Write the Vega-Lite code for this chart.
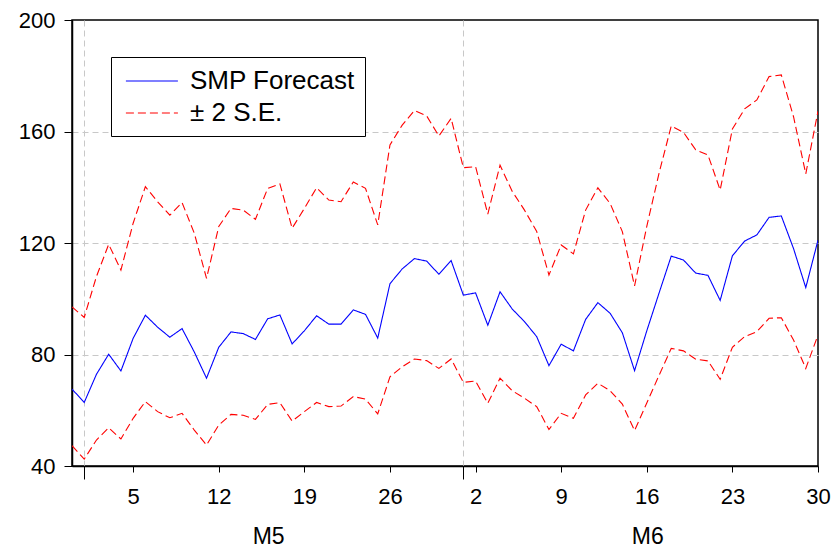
{
  "$schema": "https://vega.github.io/schema/vega-lite/v6.json",
  "width": 746,
  "height": 446,
  "autosize": {"type": "none"},
  "padding": {"left": 72, "top": 20, "right": 17, "bottom": 88},
  "background": "white",
  "config": {
    "view": {"stroke": "black", "strokeWidth": 1.5},
    "font": "Liberation Sans"
  },
  "data": {
    "values": [
      {"date": "2015-04-30", "forecast": 67.6, "upper": 97.1, "lower": 47.3},
      {"date": "2015-05-01", "forecast": 62.8, "upper": 93.3, "lower": 42.5},
      {"date": "2015-05-02", "forecast": 72.9, "upper": 108.0, "lower": 49.3},
      {"date": "2015-05-03", "forecast": 80.1, "upper": 119.5, "lower": 53.7},
      {"date": "2015-05-04", "forecast": 74.1, "upper": 110.3, "lower": 49.7},
      {"date": "2015-05-05", "forecast": 85.8, "upper": 127.1, "lower": 57.1},
      {"date": "2015-05-06", "forecast": 94.1, "upper": 140.2, "lower": 63.1},
      {"date": "2015-05-07", "forecast": 89.8, "upper": 134.8, "lower": 59.5},
      {"date": "2015-05-08", "forecast": 86.2, "upper": 130.0, "lower": 57.3},
      {"date": "2015-05-09", "forecast": 89.3, "upper": 134.5, "lower": 58.9},
      {"date": "2015-05-10", "forecast": 80.9, "upper": 123.5, "lower": 52.9},
      {"date": "2015-05-11", "forecast": 71.5, "upper": 107.3, "lower": 47.5},
      {"date": "2015-05-12", "forecast": 82.6, "upper": 125.9, "lower": 54.7},
      {"date": "2015-05-13", "forecast": 88.1, "upper": 132.4, "lower": 58.5},
      {"date": "2015-05-14", "forecast": 87.5, "upper": 131.8, "lower": 58.2},
      {"date": "2015-05-15", "forecast": 85.4, "upper": 128.5, "lower": 56.7},
      {"date": "2015-05-16", "forecast": 92.8, "upper": 139.6, "lower": 62.1},
      {"date": "2015-05-17", "forecast": 94.2, "upper": 141.2, "lower": 62.7},
      {"date": "2015-05-18", "forecast": 83.8, "upper": 125.3, "lower": 56.1},
      {"date": "2015-05-19", "forecast": 88.5, "upper": 132.4, "lower": 59.5},
      {"date": "2015-05-20", "forecast": 93.9, "upper": 139.8, "lower": 62.8},
      {"date": "2015-05-21", "forecast": 90.9, "upper": 135.4, "lower": 61.3},
      {"date": "2015-05-22", "forecast": 90.9, "upper": 134.8, "lower": 61.5},
      {"date": "2015-05-23", "forecast": 96.0, "upper": 141.9, "lower": 64.9},
      {"date": "2015-05-24", "forecast": 94.4, "upper": 139.6, "lower": 64.0},
      {"date": "2015-05-25", "forecast": 85.9, "upper": 126.5, "lower": 58.7},
      {"date": "2015-05-26", "forecast": 105.4, "upper": 155.2, "lower": 72.0},
      {"date": "2015-05-27", "forecast": 110.7, "upper": 162.3, "lower": 75.6},
      {"date": "2015-05-28", "forecast": 114.4, "upper": 167.5, "lower": 78.4},
      {"date": "2015-05-29", "forecast": 113.5, "upper": 165.6, "lower": 77.8},
      {"date": "2015-05-30", "forecast": 108.8, "upper": 158.4, "lower": 75.0},
      {"date": "2015-05-31", "forecast": 113.7, "upper": 164.7, "lower": 78.4},
      {"date": "2015-06-01", "forecast": 101.3, "upper": 147.0, "lower": 70.0},
      {"date": "2015-06-02", "forecast": 102.1, "upper": 147.4, "lower": 70.5},
      {"date": "2015-06-03", "forecast": 90.5, "upper": 130.4, "lower": 62.5},
      {"date": "2015-06-04", "forecast": 102.5, "upper": 147.9, "lower": 71.5},
      {"date": "2015-06-05", "forecast": 96.3, "upper": 138.5, "lower": 67.0},
      {"date": "2015-06-06", "forecast": 91.8, "upper": 131.8, "lower": 64.3},
      {"date": "2015-06-07", "forecast": 86.4, "upper": 124.1, "lower": 61.3},
      {"date": "2015-06-08", "forecast": 76.0, "upper": 108.5, "lower": 53.1},
      {"date": "2015-06-09", "forecast": 83.7, "upper": 119.3, "lower": 58.9},
      {"date": "2015-06-10", "forecast": 81.3, "upper": 116.1, "lower": 57.1},
      {"date": "2015-06-11", "forecast": 92.6, "upper": 131.8, "lower": 65.5},
      {"date": "2015-06-12", "forecast": 98.6, "upper": 139.8, "lower": 69.7},
      {"date": "2015-06-13", "forecast": 94.8, "upper": 134.2, "lower": 67.0},
      {"date": "2015-06-14", "forecast": 87.8, "upper": 124.1, "lower": 62.2},
      {"date": "2015-06-15", "forecast": 74.2, "upper": 104.6, "lower": 52.7},
      {"date": "2015-06-16", "forecast": 88.5, "upper": 126.0, "lower": 62.6},
      {"date": "2015-06-17", "forecast": 102.0, "upper": 145.0, "lower": 72.5},
      {"date": "2015-06-18", "forecast": 115.3, "upper": 162.0, "lower": 82.2},
      {"date": "2015-06-19", "forecast": 113.9, "upper": 159.7, "lower": 81.3},
      {"date": "2015-06-20", "forecast": 109.2, "upper": 153.4, "lower": 78.3},
      {"date": "2015-06-21", "forecast": 108.4, "upper": 151.6, "lower": 77.7},
      {"date": "2015-06-22", "forecast": 99.4, "upper": 139.0, "lower": 71.1},
      {"date": "2015-06-23", "forecast": 115.4, "upper": 160.9, "lower": 82.6},
      {"date": "2015-06-24", "forecast": 120.7, "upper": 168.1, "lower": 86.4},
      {"date": "2015-06-25", "forecast": 122.9, "upper": 171.3, "lower": 88.2},
      {"date": "2015-06-26", "forecast": 129.2, "upper": 179.7, "lower": 93.0},
      {"date": "2015-06-27", "forecast": 129.7, "upper": 180.3, "lower": 93.2},
      {"date": "2015-06-28", "forecast": 118.0, "upper": 165.3, "lower": 85.2},
      {"date": "2015-06-29", "forecast": 104.0, "upper": 144.8, "lower": 75.0},
      {"date": "2015-06-30", "forecast": 121.0, "upper": 167.3, "lower": 87.0}
    ]
  },
  "transform": [{"fold": ["forecast", "upper", "lower"], "as": ["series", "value"]}],
  "mark": {"type": "line", "strokeWidth": 1.1, "clip": true},
  "encoding": {
    "x": {
      "field": "date",
      "type": "temporal",
      "scale": {
        "type": "utc",
        "nice": false,
        "domain": [
          {"year": 2015, "month": 4, "date": 30, "utc": true},
          {"year": 2015, "month": 6, "date": 30, "utc": true}
        ]
      },
      "axis": {
        "title": null,
        "values": [
          {"year": 2015, "month": 5, "date": 1, "utc": true},
          {"year": 2015, "month": 5, "date": 5, "utc": true},
          {"year": 2015, "month": 5, "date": 12, "utc": true},
          {"year": 2015, "month": 5, "date": 16, "hours": 1, "utc": true},
          {"year": 2015, "month": 5, "date": 19, "utc": true},
          {"year": 2015, "month": 5, "date": 26, "utc": true},
          {"year": 2015, "month": 6, "date": 1, "utc": true},
          {"year": 2015, "month": 6, "date": 2, "utc": true},
          {"year": 2015, "month": 6, "date": 9, "utc": true},
          {"year": 2015, "month": 6, "date": 16, "utc": true},
          {"year": 2015, "month": 6, "date": 16, "hours": 1, "utc": true},
          {"year": 2015, "month": 6, "date": 23, "utc": true},
          {"year": 2015, "month": 6, "date": 30, "utc": true}
        ],
        "labelExpr": "utchours(datum.value) == 1 ? 'M' + (utcmonth(datum.value) + 1) : (utcdate(datum.value) == 1 ? '' : '' + utcdate(datum.value))",
        "labelOverlap": false,
        "labelFlush": false,
        "labelFont": "Liberation Sans",
        "labelColor": "black",
        "labelFontSize": {"condition": {"test": "utchours(datum.value) == 1", "value": 23}, "value": 22},
        "labelPadding": {"condition": {"test": "utchours(datum.value) == 1", "value": 53}, "value": 14},
        "tickSize": {"condition": {"test": "utcdate(datum.value) == 1", "value": 13}, "value": 6},
        "tickOpacity": {"condition": {"test": "utchours(datum.value) == 1", "value": 0}, "value": 1},
        "tickColor": "black",
        "domainColor": "black",
        "domainWidth": 1.5,
        "grid": true,
        "gridColor": "#c8c8c8",
        "gridDash": [6, 4],
        "gridOpacity": {"condition": {"test": "utcdate(datum.value) == 1 && utchours(datum.value) == 0", "value": 1}, "value": 0}
      }
    },
    "y": {
      "field": "value",
      "type": "quantitative",
      "scale": {"domain": [40, 200], "nice": false, "zero": false},
      "axis": {
        "title": null,
        "values": [40, 80, 120, 160, 200],
        "labelFont": "Liberation Sans",
        "labelFontSize": 22,
        "labelColor": "black",
        "labelPadding": 9,
        "tickSize": 8,
        "tickColor": "black",
        "domainColor": "black",
        "domainWidth": 1.5,
        "grid": true,
        "gridColor": "#c8c8c8",
        "gridDash": [6, 4],
        "gridOpacity": {"condition": {"test": "datum.value == 40 || datum.value == 200", "value": 0}, "value": 1}
      }
    },
    "stroke": {
      "field": "series",
      "type": "nominal",
      "scale": {"domain": ["forecast", "upper", "lower"], "range": ["#0000ff", "#ff0000", "#ff0000"]},
      "legend": {
        "orient": "none",
        "legendX": 39,
        "legendY": 37,
        "title": null,
        "values": ["forecast", "upper"],
        "labelExpr": "datum.value == 'forecast' ? 'SMP Forecast' : '± 2 S.E.'",
        "labelFont": "Liberation Sans",
        "labelFontSize": 26,
        "labelColor": "black",
        "labelLimit": 400,
        "labelOffset": 41,
        "symbolType": "M-0.7,0H3.3",
        "symbolSize": 676,
        "symbolStrokeWidth": 1.1,
        "strokeColor": "black",
        "fillColor": "white",
        "padding": 10,
        "rowPadding": 5
      }
    },
    "strokeDash": {
      "field": "series",
      "type": "nominal",
      "scale": {"domain": ["forecast", "upper", "lower"], "range": [[1, 0], [8, 4], [8, 4]]},
      "legend": {
        "orient": "none",
        "legendX": 39,
        "legendY": 37,
        "title": null,
        "values": ["forecast", "upper"],
        "labelExpr": "datum.value == 'forecast' ? 'SMP Forecast' : '± 2 S.E.'",
        "labelFont": "Liberation Sans",
        "labelFontSize": 26,
        "labelColor": "black",
        "labelLimit": 400,
        "labelOffset": 41,
        "symbolType": "M-0.7,0H3.3",
        "symbolSize": 676,
        "symbolStrokeWidth": 1.1,
        "strokeColor": "black",
        "fillColor": "white",
        "padding": 10,
        "rowPadding": 5
      }
    }
  }
}
